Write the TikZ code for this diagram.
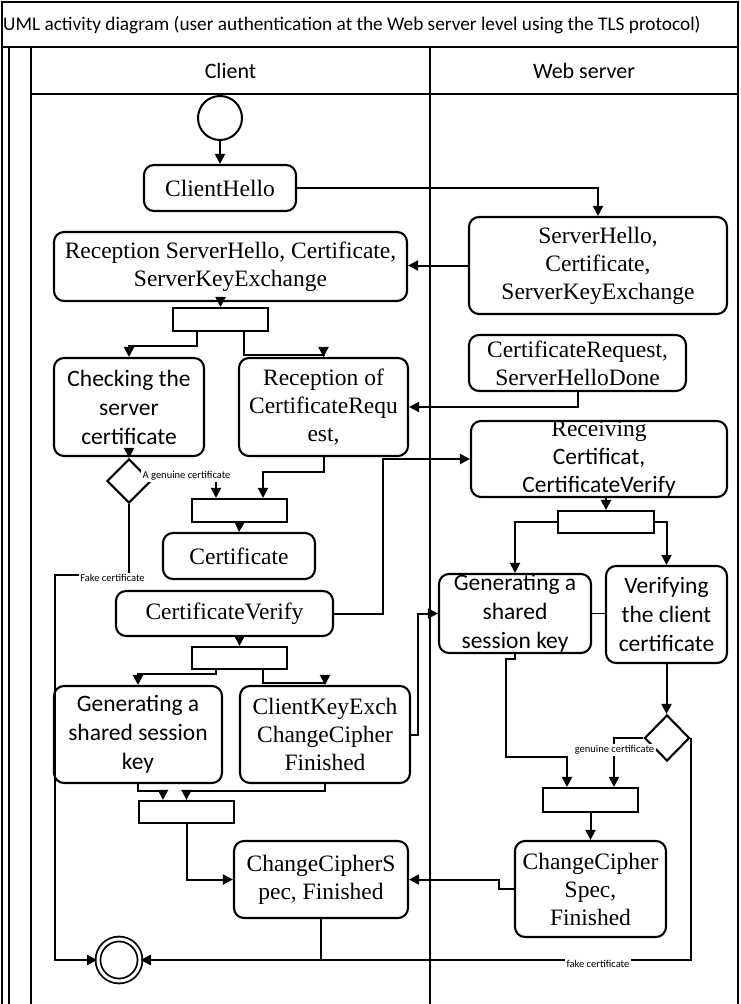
\documentclass[tikz,border=0pt]{standalone}
\usepackage{fontspec}
\setmainfont{Liberation Serif}
\newfontfamily\calibri{Carlito}
\usetikzlibrary{shapes.geometric, arrows.meta, positioning, calc}
\newcommand{\actfont}{\fontsize{23.5}{28}\selectfont}
\newcommand{\sansact}{\calibri\fontsize{23.5}{29}\selectfont}

\begin{document}
\begin{tikzpicture}[x=1pt, y=-1pt,
            lane/.style={line width=2pt},
            act/.style={rectangle, draw, line width=2.1pt, rounded corners=10pt, inner sep=0pt, align=center, font=\actfont},
            sact/.style={act, font=\sansact},
            bar/.style={rectangle, draw, line width=2.1pt, minimum width=95pt, minimum height=23pt, inner sep=0pt},
            dec/.style={diamond, draw, line width=2.1pt, minimum width=44pt, minimum height=44pt, inner sep=0pt},
            arrow/.style={-{Triangle[length=10pt,width=10pt]}, line width=2pt},
            lbl/.style={font=\calibri\fontsize{10.5}{12}\selectfont, fill=white, inner sep=1.5pt}
        ]
            \useasboundingbox (0,0) rectangle (740,1004);

            % Swimlanes
            \draw[lane] (2,1004) -- (2,2) -- (738,2) -- (738,1004);
            \draw[lane] (2,47) -- (738,47);
            \draw[lane] (9,47) -- (9,1004);
            \draw[lane] (31,47) -- (31,1004);
            \draw[lane] (31,94) -- (738,94);
            \draw[lane] (430,47) -- (430,1004);
            \node[anchor=west, inner sep=0pt, font=\calibri\fontsize{19.3}{22}\selectfont] (title) at (3,25) {UML activity diagram (user authentication at the Web server level using the TLS protocol)};
            \node[font=\calibri\fontsize{22}{26}\selectfont] (client) at (230.5,71) {Client};
            \node[font=\calibri\fontsize{22}{26}\selectfont] (server) at (584,71) {Web server};

            % Client lane
            \node[circle, draw, line width=2pt, minimum size=44pt, inner sep=0pt] (start) at (220,118) {};
            \node[act, minimum width=152pt, minimum height=46pt] (hello) at (220,188) {ClientHello};
            \node[act, minimum width=353pt, minimum height=69pt] (recvsh) at (230.5,266.5) {Reception ServerHello, Certificate,\\ServerKeyExchange};
            \node[bar] (bar1) at (220.5,319.5) {};
            \node[sact, minimum width=150pt, minimum height=98pt] (check) at (129,407) {Checking the\\server\\certificate};
            \node[act, minimum width=169pt, minimum height=98pt] (recvcr) at (323.5,407) {Reception of\\CertificateRequ\\est,};
            \node[dec] (dec1) at (129,481) {};
            \node[bar] (bar2) at (239.5,510.5) {};
            \node[act, minimum width=152pt, minimum height=46pt] (cert) at (239,556) {Certificate};
            \node[act, minimum width=217pt, minimum height=45pt] (certv) at (224.5,613.5) {CertificateVerify};
            \node[bar, minimum height=22pt] (bar3) at (239.5,658) {};
            \node[sact, minimum width=168pt, minimum height=97pt] (cgen) at (138,734.5) {Generating a\\shared session\\key};
            \node[act, minimum width=170pt, minimum height=97pt] (ckx) at (325,734.5) {ClientKeyExch\\ChangeCipher\\Finished};
            \node[bar, minimum height=22pt] (bar6) at (186.5,812) {};
            \node[act, minimum width=174pt, minimum height=77pt] (cccs) at (321,879.5) {ChangeCipherS\\pec, Finished};
            \node[circle, draw, double, double distance=3pt, line width=1.8pt, minimum size=42pt, inner sep=0pt] (stop) at (119,960) {};

            % Web server lane
            \node[act, minimum width=258pt, minimum height=97pt] (shkx) at (598,265.5) {ServerHello,\\Certificate,\\ServerKeyExchange};
            \node[act, minimum width=217pt, minimum height=56pt] (crdone) at (577.5,363) {CertificateRequest,\\ServerHelloDone};
            \node[act, minimum width=256pt, minimum height=76pt] (recvcv) at (599,459) {Receiving\\{\sansact Certificat,}\\{\sansact CertificateVerify}};
            \node[bar, minimum width=96pt, minimum height=22pt] (bar4) at (606,522) {};
            \node[sact, minimum width=152pt, minimum height=79pt] (sgen) at (515,613.5) {Generating a\\shared\\session key};
            \node[sact, minimum width=121pt, minimum height=97pt] (verif) at (666.5,614.5) {Verifying\\the client\\certificate};
            \node[dec, minimum width=45pt, minimum height=46pt] (dec2) at (667,738) {};
            \node[bar, minimum height=24pt] (bar5) at (590.5,800) {};
            \node[act, minimum width=151pt, minimum height=96pt] (sccs) at (590.5,889) {ChangeCipher\\Spec,\\Finished};

            % Client flow
            \draw[arrow] (start.south) -- (hello.north);
            \draw[arrow] (hello.east) -| (shkx.north);
            \draw[arrow] (shkx.west) -- (shkx.west -| recvsh.east);
            \draw[arrow] (bar1.north |- recvsh.south) -- (bar1.north);
            \draw[arrow] ($(bar1.south)+(-23.5,0)$) -- ++(0,14) -| (check.north);
            \draw[arrow] ($(bar1.south)+(23.5,0)$) -- ++(0,23) -| (recvcr.north);
            \draw[arrow] (crdone.south) |- (recvcr.east);
            \draw[arrow] (check.south) -- (dec1.north);
            \draw[arrow] (dec1.east) -| ($(bar2.north)+(-23.5,0)$);
            \node[lbl, anchor=west] (gen1) at (141,476) {A genuine certificate};
            \coordinate (fk) at (55,575);
            \draw[arrow] (dec1.south) |- (fk) |- (stop.west);
            \node[lbl] (fake1) at (112.5,578) {Fake certificate};
            \draw[arrow] (recvcr.south) -- ++(0,15) -| ($(bar2.north)+(23.5,0)$);
            \draw[arrow] (bar2.south) -- (cert.north);
            \draw[arrow] (certv.east) -- ++(49,0) |- (recvcv.west);
            \draw[arrow] (bar3.north |- certv.south) -- (bar3.north);
            \draw[arrow] ($(bar3.south)+(-23.5,0)$) -- ++(0,4) -| (cgen.north);
            \draw[arrow] ($(bar3.south)+(23.5,0)$) -- ++(0,13) -| (ckx.north);
            \draw[arrow] (ckx.east) -- ++(7,0) |- (sgen.west);
            \draw[arrow] (cgen.south) -- ++(0,7) -| ($(bar6.north)+(-23.5,0)$);
            \draw[arrow] (ckx.south) -- ++(0,7) -| (bar6.north);
            \draw[arrow] (bar6.south) |- (cccs.west);
            \draw[arrow] (cccs.south) |- (stop.east);

            % Web server flow
            \draw[arrow] (bar4.north |- recvcv.south) -- (bar4.north);
            \draw[arrow] (bar4.west) -| (sgen.north);
            \draw[arrow] (bar4.east) -| (verif.north);
            \draw[line width=0.8pt] (sgen.east) -- (sgen.east -| verif.west);
            \draw[arrow] (verif.south) -- (verif.south |- dec2.north);
            \draw[arrow] (dec2.west) -| ($(bar5.north)+(23.5,0)$);
            \node[lbl] (gen2) at (614.5,750) {genuine certificate};
            \draw[arrow] (sgen.south) -- ++(0,5) -- ++(-9,0) |- ($(bar5.north)+(-23.5,-30)$) -- ($(bar5.north)+(-23.5,0)$);
            \draw[arrow] (bar5.south) -- (sccs.north);
            \draw[arrow] (sccs.west) -- ++(-15,0) |- (cccs.east);
            \draw[arrow] (dec2.east) |- (stop.east);
            \node[lbl] (fake2) at (598,964) {fake certificate};
        \end{tikzpicture}
\end{document}
